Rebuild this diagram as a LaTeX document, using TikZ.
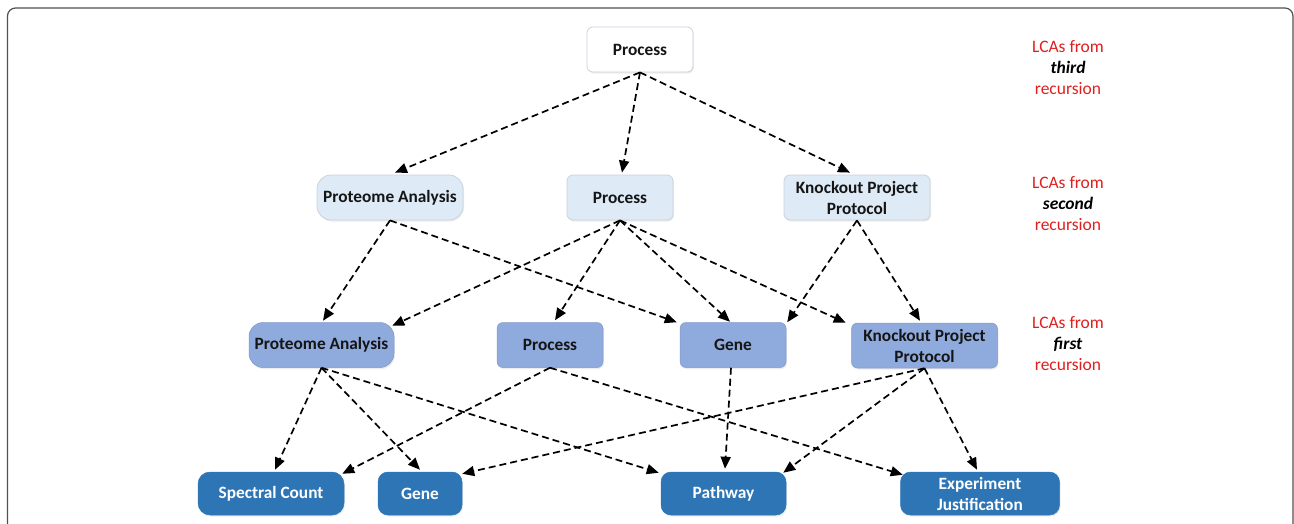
\documentclass[tikz,border=0pt]{standalone}
\usepackage{fontspec}
\setmainfont{Carlito}
\usetikzlibrary{arrows.meta,shadows}
\definecolor{lvltop}{HTML}{FFFFFF}
\definecolor{lvltwo}{HTML}{DEEAF6}
\definecolor{lvlthree}{HTML}{8FAADC}
\definecolor{lvlfour}{HTML}{2E75B6}
\definecolor{paleedge}{HTML}{C9D3DE}
\definecolor{lcared}{HTML}{E0201E}
\definecolor{framegray}{HTML}{505050}
\definecolor{inkblack}{HTML}{151515}

\begin{document}
\begin{tikzpicture}[x=1pt,y=-1pt,
  box/.style={rectangle, rounded corners=6pt, inner sep=0pt, align=center,
    font=\fontsize{17.3}{21}\selectfont\bfseries,
    drop shadow={opacity=0.15, shadow xshift=1pt, shadow yshift=-1.5pt}},
  topbox/.style={box, fill=lvltop, draw=paleedge, line width=0.8pt, text=inkblack},
  twobox/.style={box, fill=lvltwo, draw=paleedge, line width=0.8pt, text=inkblack},
  threebox/.style={box, fill=lvlthree, draw=lvlthree!90!black, line width=0.5pt, text=inkblack},
  fourbox/.style={box, fill=lvlfour, draw=lvlfour, line width=0.5pt, text=white, rounded corners=10pt},
  round/.style={rounded corners=14pt},
  lca/.style={align=center, text=lcared, font=\fontsize{17.5}{21}\selectfont},
  link/.style={draw=black, line width=1.7pt, dash pattern=on 7pt off 4pt,
    -{Triangle[length=12pt,width=10pt]}, shorten >=0pt},
]
\useasboundingbox (0,0) rectangle (1294,523);

% outer panel frame, open at the lower edge
\draw[framegray, line width=1.2pt, rounded corners=8pt] (7.5,8) rectangle (1293,560);

% third recursion
\node[topbox, minimum width=106pt, minimum height=45pt] (p1) at (640,49.5) {Process};

% second recursion
\node[twobox, round, minimum width=146pt, minimum height=45pt] (pa2) at (390,197.5) {Proteome Analysis};
\node[twobox, minimum width=106pt, minimum height=45pt] (pr2) at (620,197.5) {Process};
\node[twobox, minimum width=146pt, minimum height=45pt] (kp2) at (857,197.5) {Knockout Project\\Protocol};

% first recursion
\node[threebox, round, minimum width=145pt, minimum height=45pt] (pa3) at (321.5,345) {Proteome Analysis};
\node[threebox, minimum width=106pt, minimum height=45pt] (pr3) at (550,345) {Process};
\node[threebox, minimum width=106pt, minimum height=45pt] (ge3) at (733,345) {Gene};
\node[threebox, minimum width=146pt, minimum height=45pt] (kp3) at (924.5,345.5) {Knockout Project\\Protocol};

% leaf concepts
\node[fourbox, rounded corners=12pt, minimum width=146pt, minimum height=43pt] (sc4) at (271,493.5) {Spectral Count};
\node[fourbox, minimum width=84pt, minimum height=43pt] (ge4) at (420,493.5) {Gene};
\node[fourbox, minimum width=125pt, minimum height=43pt] (pw4) at (723.5,493.5) {Pathway};
\node[fourbox, minimum width=159pt, minimum height=43pt] (ej4) at (980,493.5) {Experiment\\Justification};

% recursion labels
\node[lca] (l3) at (1068,68) {LCAs from\\{\color{black}\bfseries\itshape third}\\recursion};
\node[lca] (l2) at (1068,203.5) {LCAs from\\{\color{black}\bfseries\itshape second}\\recursion};
\node[lca] (l1) at (1068,344) {LCAs from\\{\color{black}\bfseries\itshape first}\\recursion};

% third -> second
\draw[link] (p1.south) -- ([xshift=5pt,yshift=2pt]pa2.north);
\draw[link] (p1.south) -- ([xshift=2pt,yshift=2pt]pr2.north);
\draw[link] (p1.south) -- ([xshift=-7pt,yshift=2pt]kp2.north);

% second -> first
\draw[link] (pa2.south) -- ([xshift=1.5pt,yshift=1.5pt]pa3.north);
\draw[link] (pa2.south) -- ([xshift=-3pt]ge3.north west);
\draw[link] (pr2.south) -- ([xshift=-2pt,yshift=-3.5pt]pa3.north east);
\draw[link] (pr2.south) -- ([xshift=5pt,yshift=2pt]pr3.north);
\draw[link] (pr2.south) -- ([xshift=-3pt,yshift=0.5pt]ge3.north);
\draw[link] (pr2.south) -- ([xshift=-5.5pt]kp3.north west);
\draw[link] (kp2.south) -- ([xshift=1pt]ge3.north east);
\draw[link] (kp2.south) -- ([xshift=-4.5pt,yshift=2pt]kp3.north);

% first -> leaves
\draw[link] (pa3.south) -- ([xshift=4pt,yshift=2pt]sc4.north);
\draw[link] (pa3.south) -- ([yshift=2pt]ge4.north);
\draw[link] (pa3.south) -- ([xshift=-2pt,yshift=-1pt]pw4.north west);
\draw[link] (pr3.south) -- ([xshift=-2pt,yshift=-2pt]sc4.north east);
\draw[link] (pr3.south) -- ([xshift=2.5pt,yshift=-3pt]ej4.north west);
\draw[link] ([xshift=-2pt]ge3.south) -- ([xshift=1.5pt,yshift=3pt]pw4.north);
\draw[link] (kp3.south) -- ([yshift=-2pt]ge4.north east);
\draw[link] (kp3.south) -- ([xshift=-3pt,yshift=-1pt]pw4.north east);
\draw[link] (kp3.south) -- ([xshift=-3pt,yshift=2pt]ej4.north);
\end{tikzpicture}
\end{document}
